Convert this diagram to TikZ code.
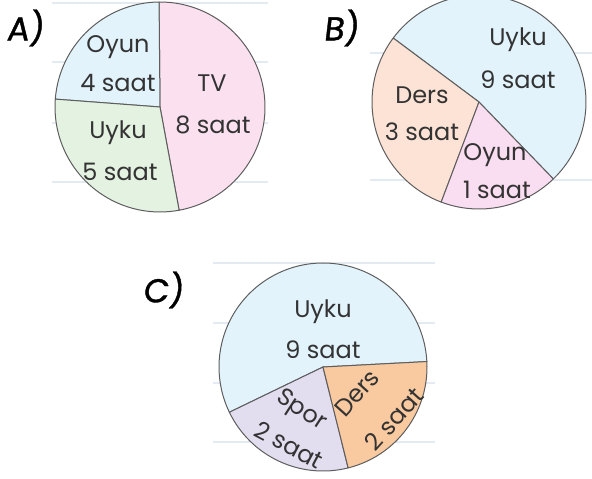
\documentclass[tikz,border=0pt]{standalone}
\usepackage{fontspec}
\setmainfont{Poppins}
\newfontfamily\tagfont[FakeSlant=0.12, FakeBold=1.2]{Poppins}
\definecolor{ruleblue}{HTML}{E3EAF2}
\definecolor{edgegray}{HTML}{5E5E5E}
\definecolor{textgray}{HTML}{333333}
\definecolor{sleepblue}{HTML}{E2F3FB}
\definecolor{sleepgreen}{HTML}{E4F2E1}
\definecolor{tvpink}{HTML}{FBE1F0}
\definecolor{playpink}{HTML}{F9DDF0}
\definecolor{lessonpeach}{HTML}{FCE3D6}
\definecolor{lessonorange}{HTML}{F9C9A0}
\definecolor{sportlilac}{HTML}{E3DDF0}

\begin{document}
\begin{tikzpicture}[x=1pt,y=1pt,
                    ruled/.style={draw=ruleblue, line width=1.3pt},
                    slice/.style={draw=edgegray, line width=1pt, line join=round},
                    lbl/.style={font=\fontsize{24}{26}\selectfont, text=textgray, inner sep=0},
                    tag/.style={font=\tagfont\fontsize{33}{35}\selectfont, inner sep=0}]

\useasboundingbox (0,0) rectangle (592,479);

% notebook lines behind the pies
\foreach \y in {476,417,356,297}{\draw[ruled] (52,\y) -- (268,\y);}
\foreach \y in {426,299}{\draw[ruled] (370,\y) -- (592,\y);}
\foreach \y in {216,156,96,37}{\draw[ruled] (213,\y) -- (435,\y);}

% A
\coordinate (pA) at (160,372);
\foreach \a/\b/\c in {-79.5/90.5/tvpink, 90.5/175.7/sleepblue, 175.7/280.5/sleepgreen}{%
    \filldraw[slice, fill=\c] (pA) -- ++(\a:105) arc[start angle=\a, end angle=\b, radius=105] -- cycle;}
\node[tag] (tA) at (25,451) {A)};
\node[lbl] (oyunA) at (118,432) {Oyun};
\node[lbl] (oyunAh) at (118,396) {4 saat};
\node[lbl] (tvA) at (212,396) {TV};
\node[lbl] (tvAh) at (213,354) {8 saat};
\node[lbl] (uykuA) at (118,346) {Uyku};
\node[lbl] (uykuAh) at (120,307) {5 saat};

% B
\coordinate (pB) at (479,377);
\foreach \a/\b/\c in {-46/143.3/sleepblue, 143.3/249.3/lessonpeach, 249.3/314/playpink}{%
    \filldraw[slice, fill=\c] (pB) -- ++(\a:107) arc[start angle=\a, end angle=\b, radius=107] -- cycle;}
\node[tag] (tB) at (341,451) {B)};
\node[lbl] (uykuB) at (518,439) {Uyku};
\node[lbl] (uykuBh) at (518,399) {9 saat};
\node[lbl] (dersB) at (422,384) {Ders};
\node[lbl] (dersBh) at (422,347) {3 saat};
\node[lbl] (oyunB) at (495,324) {Oyun};
\node[lbl] (oyunBh) at (497,289) {1 saat};

% C
\coordinate (pC) at (323,112);
\foreach \a/\b/\c in {3/205.8/sleepblue, 205.8/284/sportlilac, 284/363/lessonorange}{%
    \filldraw[slice, fill=\c] (pC) -- ++(\a:104) arc[start angle=\a, end angle=\b, radius=104] -- cycle;}
\node[tag] (tC) at (163,189) {C)};
\node[lbl] (uykuC) at (323,167) {Uyku};
\node[lbl] (uykuCh) at (323,129) {9 saat};
\node[lbl, rotate=48] (dersC) at (357,86) {Ders};
\node[lbl, rotate=48] (dersCh) at (394,60) {2 saat};
\node[lbl, rotate=-33] (sporC) at (301,68) {Spor};
\node[lbl, rotate=-28] (sporCh) at (289,34) {2 saat};
\end{tikzpicture}
\end{document}
